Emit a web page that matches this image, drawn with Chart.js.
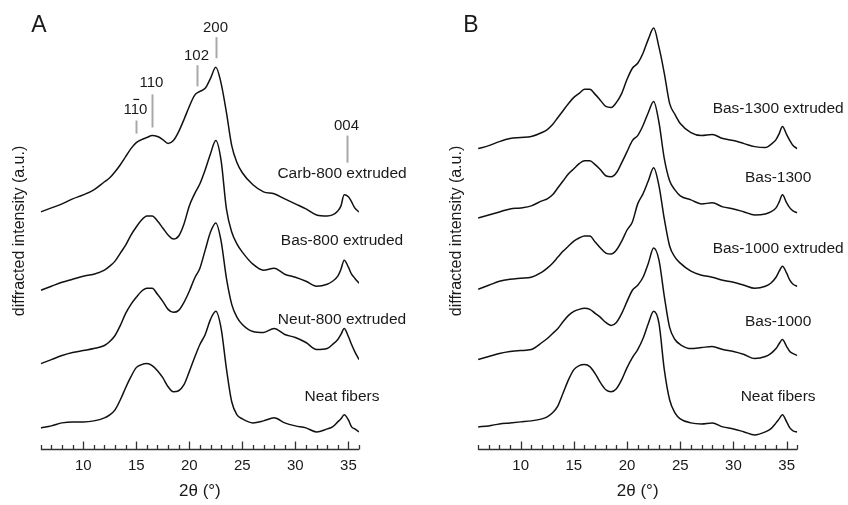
<!DOCTYPE html>
<html>
<head>
<meta charset="utf-8">
<script src="https://cdn.jsdelivr.net/npm/chart.js@4.4.0/dist/chart.umd.min.js"></script>
<style>
  body { margin: 0; background: #fff; }
  .panel { position: absolute; top: 0; width: 424px; height: 505px; }
  #panelA { left: 0; }
  #panelB { left: 424px; }
</style>
</head>
<body>
<div class="panel" id="panelA"><canvas id="chartA"></canvas></div>
<div class="panel" id="panelB"><canvas id="chartB"></canvas></div>
<script>
// 2theta sampling (degrees)
const twoTheta = [6, 7, 8, 9, 10, 11, 12, 12.5, 13, 13.5, 14, 14.5, 15, 15.5, 16, 16.5, 17, 17.5, 18, 18.5,
  19, 19.5, 20, 20.5, 21, 21.5, 22, 22.5, 23, 23.5, 24, 24.5, 25, 26, 27, 28, 29, 30, 31, 32,
  33, 33.5, 34, 34.3, 34.6, 35, 35.3, 35.6, 36];
const tickValues = [10, 15, 20, 25, 30, 35];

// panel A - stacked intensities (a.u.), offsets included
const carb800Extruded = [236, 240, 244, 249, 253, 258, 266, 270, 276, 283, 291, 299, 305, 308, 310, 312, 311, 308, 304, 307,
  316, 328, 341, 352, 356, 359, 369, 380, 364, 335, 302, 285, 275, 263, 256, 254, 249, 244, 239, 233,
  232, 233, 237, 242, 253, 251, 246, 240, 236];
const bas800Extruded = [158, 162, 166, 169, 172, 174, 178, 182, 187, 195, 203, 213, 221, 228, 232, 232, 227, 220, 213, 209,
  212, 224, 242, 254, 264, 278, 294, 307, 287, 239, 216, 204, 196, 184, 178, 180, 174, 171, 167, 162,
  164, 167, 172, 179, 188, 181, 174, 170, 165];
const neut800Extruded = [85, 89, 93, 96, 98, 100, 103, 107, 113, 123, 135, 144, 151, 157, 160, 160, 154, 147, 139, 136,
  138, 146, 157, 170, 180, 198, 216, 225, 207, 170, 144, 131, 124, 117, 116, 120, 114, 111, 106, 99,
  100, 104, 109, 114, 120, 112, 104, 97, 89];
const neatFibersA = [21, 23, 26, 27, 27, 28, 31, 34, 39, 49, 61, 72, 81, 84, 85, 83, 78, 71, 62, 57,
  58, 64, 77, 91, 104, 114, 129, 137, 120, 80, 47, 34, 30, 26, 28, 31, 26, 23, 21, 17,
  20, 22, 27, 30, 34, 29, 22, 20, 17];

// panel B
const bas1300Extruded = [299, 302, 306, 309, 310, 311, 315, 318, 323, 330, 337, 344, 350, 354, 358, 358, 353, 347, 341, 340,
  345, 354, 368, 379, 384, 394, 408, 419, 400, 374, 344, 333, 324, 315, 312, 313, 309, 307, 304, 301,
  300, 303, 308, 314, 321, 313, 307, 302, 299];
const bas1300 = [230, 233, 236, 239, 240, 242, 247, 249, 253, 260, 267, 274, 279, 284, 287, 287, 283, 278, 272, 271,
  275, 285, 296, 307, 312, 322, 335, 346, 325, 289, 267, 258, 252, 248, 244, 245, 241, 239, 236, 233,
  234, 236, 240, 246, 253, 245, 240, 237, 235];
const bas1000Extruded = [159, 163, 167, 169, 170, 171, 176, 180, 185, 191, 197, 202, 207, 210, 212, 212, 206, 200, 195, 194,
  198, 207, 218, 226, 244, 254, 267, 280, 262, 229, 202, 191, 185, 177, 173, 171, 168, 166, 163, 160,
  162, 165, 171, 177, 182, 175, 168, 164, 162];
const bas1000 = [89, 92, 95, 97, 98, 99, 106, 110, 115, 120, 127, 133, 137, 139, 140, 139, 135, 131, 126, 123,
  126, 135, 147, 158, 163, 171, 185, 200, 188, 152, 121, 109, 104, 100, 101, 102, 99, 97, 94, 90,
  92, 95, 100, 105, 109, 102, 97, 95, 93];
const neatFibersB = [22, 23, 25, 26, 27, 28, 30, 32, 36, 43, 56, 69, 79, 83, 84, 82, 75, 66, 59, 57,
  60, 69, 81, 91, 99, 110, 125, 137, 125, 79, 49, 36, 30, 26, 25, 26, 22, 20, 17, 14,
  17, 20, 26, 30, 34, 27, 21, 18, 17];

const namesA = ['Carb-800 extruded', 'Bas-800 extruded', 'Neut-800 extruded', 'Neat fibers'];
const namesB = ['Bas-1300 extruded', 'Bas-1300', 'Bas-1000 extruded', 'Bas-1000', 'Neat fibers'];

// where the curve names sit (2theta, intensity)
const labelThetaA = 34.4;
const labelLevelA = [274, 207, 129, 52];
const labelThetaB = 34.2;
const labelLevelB = [339, 270, 199, 127, 52];

// reflections marked in panel A
const peakNames = ['110', '110', '102', '200', '004'];
const peakBarOver = [1, -1, -1, -1, -1];
const peakTheta = [15.0, 16.5, 20.7, 22.5, 34.85];
const peakLineLow = [314, 320, 361, 389, 285];
const peakLineHigh = [327, 353, 382, 410, 312];
const peakTextLevel = [338, 364, 391, 419, 322];

const FONT = '"Liberation Sans", Arial, sans-serif';
const INK = '#1a1a1a';

function drawAxis(chart) {
  const { ctx, chartArea, scales: { x } } = chart;
  const yb = Math.round(chartArea.bottom) + 0.5;
  ctx.save();
  ctx.strokeStyle = '#333';
  ctx.lineWidth = 1.3;
  ctx.beginPath();
  ctx.moveTo(x.getPixelForValue(x.min), yb);
  ctx.lineTo(x.getPixelForValue(x.max), yb);
  for (let v = x.min; v <= x.max; v++) {
    const px = Math.round(x.getPixelForValue(v)) + 0.5;
    const len = v % 5 === 0 ? 8 : 4.5;
    ctx.moveTo(px, yb);
    ctx.lineTo(px, yb - len);
  }
  ctx.stroke();
  ctx.restore();
}

function drawNames(chart, names, theta, levels) {
  const { ctx, scales: { x, y } } = chart;
  ctx.save();
  ctx.fillStyle = INK;
  ctx.font = '15.5px ' + FONT;
  ctx.textAlign = 'center';
  ctx.textBaseline = 'middle';
  names.forEach((n, i) => ctx.fillText(n, x.getPixelForValue(theta), y.getPixelForValue(levels[i])));
  ctx.restore();
}

function drawPeaks(chart) {
  const { ctx, scales: { x, y } } = chart;
  ctx.save();
  ctx.font = '15px ' + FONT;
  ctx.textAlign = 'center';
  ctx.textBaseline = 'middle';
  peakTheta.forEach((t, i) => {
    const px = Math.round(x.getPixelForValue(t)) + 0.5;
    ctx.strokeStyle = '#a8a8a8';
    ctx.lineWidth = 2;
    ctx.beginPath();
    ctx.moveTo(px, y.getPixelForValue(peakLineLow[i]));
    ctx.lineTo(px, y.getPixelForValue(peakLineHigh[i]));
    ctx.stroke();
    const ty = y.getPixelForValue(peakTextLevel[i]);
    ctx.fillStyle = INK;
    ctx.fillText(peakNames[i], px - 1, ty);
    if (peakBarOver[i] >= 0) {
      // overbar on one digit (negative Miller index)
      const txt = peakNames[i];
      const w = ctx.measureText(txt).width;
      const x0 = px - 1 - w / 2 + ctx.measureText(txt.slice(0, peakBarOver[i])).width;
      const cw = ctx.measureText(txt[peakBarOver[i]]).width;
      ctx.strokeStyle = INK;
      ctx.lineWidth = 1.2;
      ctx.beginPath();
      ctx.moveTo(x0 + 1.5, ty - 10);
      ctx.lineTo(x0 + cw - 1, ty - 10);
      ctx.stroke();
    }
  });
  ctx.restore();
}

function drawLetter(chart, letter, lx) {
  const { ctx } = chart;
  ctx.save();
  ctx.fillStyle = INK;
  ctx.font = '23px ' + FONT;
  ctx.textAlign = 'center';
  ctx.textBaseline = 'middle';
  ctx.fillText(letter, lx, 26);
  ctx.restore();
}

function makeChart(id, series, names, pad, decor) {
  const datasets = series.map((s, i) => ({
    label: names[i],
    data: twoTheta.map((t, k) => ({ x: t, y: s[k] })),
    borderColor: '#111',
    borderWidth: 1.5,
    pointRadius: 0,
    cubicInterpolationMode: 'monotone',
    fill: false
  }));
  return new Chart(document.getElementById(id), {
    type: 'line',
    data: { datasets },
    options: {
      responsive: true,
      maintainAspectRatio: false,
      animation: false,
      layout: { padding: { left: pad.left, right: pad.right, top: 13, bottom: 0 } },
      plugins: { legend: { display: false }, tooltip: { enabled: false } },
      scales: {
        x: {
          type: 'linear',
          min: 6,
          max: 36,
          afterBuildTicks: scale => { scale.ticks = tickValues.map(v => ({ value: v })); },
          grid: { display: false, drawTicks: false },
          border: { display: false },
          ticks: { color: INK, font: { family: FONT, size: 15 }, padding: 8, maxRotation: 0 },
          title: { display: true, text: '2θ (°)', color: INK, font: { family: FONT, size: 17, lineHeight: 1 }, padding: { top: 0, bottom: 5 } }
        },
        y: {
          min: 0,
          max: 434,
          grid: { display: false, drawTicks: false },
          border: { display: false },
          ticks: { display: false },
          title: { display: true, text: 'diffracted intensity (a.u.)', color: INK, font: { family: FONT, size: 16 }, padding: { top: 0, bottom: pad.titleGap } }
        }
      }
    },
    plugins: [{ id: 'decor', afterDraw: decor }]
  });
}

makeChart('chartA', [carb800Extruded, bas800Extruded, neut800Extruded, neatFibersA], namesA,
  { left: 10.4, right: 65, titleGap: 11.2 },
  chart => {
    drawAxis(chart);
    drawNames(chart, namesA, labelThetaA, labelLevelA);
    drawPeaks(chart);
    drawLetter(chart, 'A', 39);
  });

makeChart('chartB', [bas1300Extruded, bas1300, bas1000Extruded, bas1000, neatFibersB], namesB,
  { left: 23.4, right: 50.7, titleGap: 11.5 },
  chart => {
    drawAxis(chart);
    drawNames(chart, namesB, labelThetaB, labelLevelB);
    drawLetter(chart, 'B', 47);
  });
</script>
</body>
</html>
